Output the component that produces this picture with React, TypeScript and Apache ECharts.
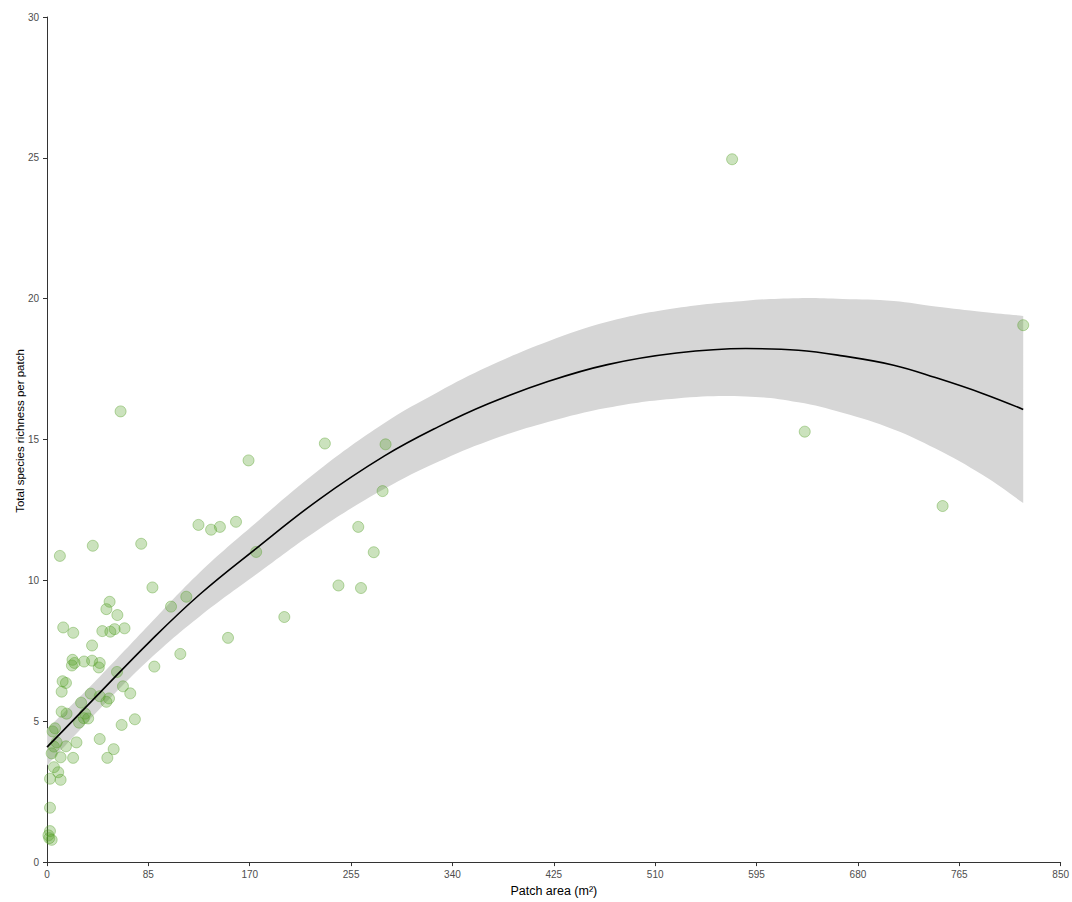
import React, { useEffect, useRef } from "react";
import * as echarts from "echarts";

// Observed patches: area (m²) and total species richness
const pointsX = [
  574.5, 818.6, 635.4, 751, 61.7, 169, 233, 283.9, 281.4, 158.5, 127, 137.6, 145, 175.4, 261, 274,
  244.4, 263.3, 199, 151.8, 10.8, 38.4, 79, 88.4, 104, 116.8, 111.8, 90, 52.5, 49.8, 59, 13.6, 22,
  46.4, 53.1, 56.7, 65, 37.8, 21.4, 23.1, 20.9, 31.1, 37.8, 44.2, 43.4, 58.7, 13.1, 15.9, 12.3,
  63.7, 69.8, 36.7, 44.2, 52, 49.8, 28.6, 12.3, 16.4, 32, 30.9, 34.5, 26.9, 73.7, 62.6, 6.7, 4.7,
  8.1, 5.8, 15.9, 24.7, 44.2, 3.9, 11.4, 21.9, 55.9, 50.6, 5.8, 9.4, 11.4, 2.5, 2.5, 2.5, 1.9, 3.9,
  1.2,
];
const pointsY = [
  24.95, 19.06, 15.28, 12.64, 16.0, 14.26, 14.86, 14.83, 13.17, 12.08, 11.97, 11.8, 11.9, 11.01,
  11.9, 11.0, 9.82, 9.73, 8.7, 7.96, 10.87, 11.23, 11.3, 9.75, 9.07, 9.42, 7.39, 6.94, 9.24, 8.98,
  8.77, 8.33, 8.14, 8.2, 8.18, 8.27, 8.3, 7.69, 7.18, 7.07, 6.98, 7.12, 7.15, 7.07, 6.91, 6.75,
  6.42, 6.36, 6.05, 6.24, 5.99, 5.98, 5.89, 5.81, 5.69, 5.66, 5.34, 5.27, 5.27, 5.11, 5.1, 4.95,
  5.07, 4.87, 4.75, 4.64, 4.25, 4.1, 4.11, 4.25, 4.37, 3.86, 3.72, 3.7, 4.01, 3.7, 3.37, 3.19,
  2.92, 2.96, 1.93, 1.1, 0.85, 0.79, 0.95,
];

// Fitted curve and its confidence band
const fitX = [0, 20, 44, 86, 128, 175, 228, 283, 328, 370, 420, 470, 528, 586, 630, 667, 710, 745, 785, 818.6];
const fitY = [4.08, 4.95, 6.0, 7.82, 9.5, 11.12, 12.87, 14.42, 15.45, 16.27, 17.06, 17.66, 18.07, 18.23, 18.17, 17.97, 17.64, 17.2, 16.63, 16.07];
const fitLower = [3.43, 4.35, 5.43, 7.2, 8.72, 10.2, 11.82, 13.25, 14.21, 14.95, 15.62, 16.13, 16.46, 16.53, 16.32, 15.95, 15.36, 14.68, 13.73, 12.75];
const fitUpper = [4.73, 5.55, 6.57, 8.44, 10.28, 12.04, 13.92, 15.59, 16.69, 17.59, 18.48, 19.18, 19.67, 19.93, 20.02, 19.99, 19.92, 19.72, 19.53, 19.39];

const xTicks = [0, 85, 170, 255, 340, 425, 510, 595, 680, 765, 850];
const yTicks = [0, 5, 10, 15, 20, 25, 30];

const FONT = "Liberation Sans, Arial, sans-serif";

export default function App() {
  const ref = useRef<HTMLDivElement>(null);

  useEffect(() => {
    if (!ref.current) return;
    const chart = echarts.init(ref.current, null, { renderer: "svg" });

    const scatterData = pointsX.map((x, i) => [x, pointsY[i]]);
    const lineData = fitX.map((x, i) => [x, fitY[i]]);
    const n = fitX.length;

    const option: any = {
      animation: false,
      backgroundColor: "#ffffff",
      grid: { left: 47, right: 6, top: 17, bottom: 33, containLabel: false },
      graphic: [
        {
          type: "text",
          x: 20,
          y: 431,
          rotation: Math.PI / 2,
          style: {
            text: "Total species richness per patch",
            fill: "#000",
            fontSize: 11.5,
            fontFamily: FONT,
            textAlign: "center",
            textVerticalAlign: "middle",
          },
        },
      ],
      xAxis: {
        type: "value",
        min: xTicks[0],
        max: xTicks[xTicks.length - 1],
        interval: 85,
        name: "Patch area (m²)",
        nameLocation: "middle",
        nameGap: 21,
        nameTextStyle: { color: "#000", fontSize: 12.5, fontFamily: FONT },
        axisLine: { show: true, lineStyle: { color: "#333", width: 1 } },
        axisTick: { show: true, length: 4, lineStyle: { color: "#333" } },
        axisLabel: { color: "#4d4d4d", fontSize: 10, margin: 7, fontFamily: FONT },
        splitLine: { show: false },
      },
      yAxis: {
        type: "value",
        min: yTicks[0],
        max: yTicks[yTicks.length - 1],
        interval: 5,
        axisLine: { show: true, lineStyle: { color: "#333", width: 1 } },
        axisTick: { show: true, length: 4, lineStyle: { color: "#333" } },
        axisLabel: { color: "#4d4d4d", fontSize: 10, margin: 8, fontFamily: FONT },
        splitLine: { show: false },
      },
      series: [
        {
          type: "custom",
          name: "band",
          silent: true,
          z: 1,
          data: [[fitX[0], fitY[0]]],
          renderItem: (_params: any, api: any) => {
            const up = fitX.map((x, i) => api.coord([x, fitUpper[i]]));
            const lo = fitX.map((x, i) => api.coord([x, fitLower[i]]));
            // corners duplicated so the smoothed outline keeps straight, square ends
            const pts: number[][] = [up[0], up[0]];
            for (let i = 1; i < n - 1; i++) pts.push(up[i]);
            pts.push(up[n - 1], up[n - 1], lo[n - 1], lo[n - 1]);
            for (let i = n - 2; i >= 1; i--) pts.push(lo[i]);
            pts.push(lo[0], lo[0]);
            return {
              type: "polygon",
              shape: { points: pts, smooth: 0.4 },
              style: { fill: "#d6d6d6", stroke: "none" },
            };
          },
        },
        {
          type: "scatter",
          name: "patches",
          z: 2,
          symbol: "circle",
          symbolSize: 11,
          data: scatterData,
          itemStyle: {
            color: "rgba(85,160,40,0.38)",
            borderColor: "rgba(85,160,40,0.5)",
            borderWidth: 1,
          },
        },
        {
          type: "line",
          name: "fit",
          z: 3,
          data: lineData,
          smooth: 0.4,
          showSymbol: false,
          symbol: "none",
          lineStyle: { color: "#000", width: 1.6 },
        },
      ],
    };

    chart.setOption(option);
    return () => chart.dispose();
  }, []);

  return (
    <div
      ref={ref}
      style={{ position: "fixed", left: 0, top: 0, width: 1072, height: 902, background: "#fff" }}
    />
  );
}
